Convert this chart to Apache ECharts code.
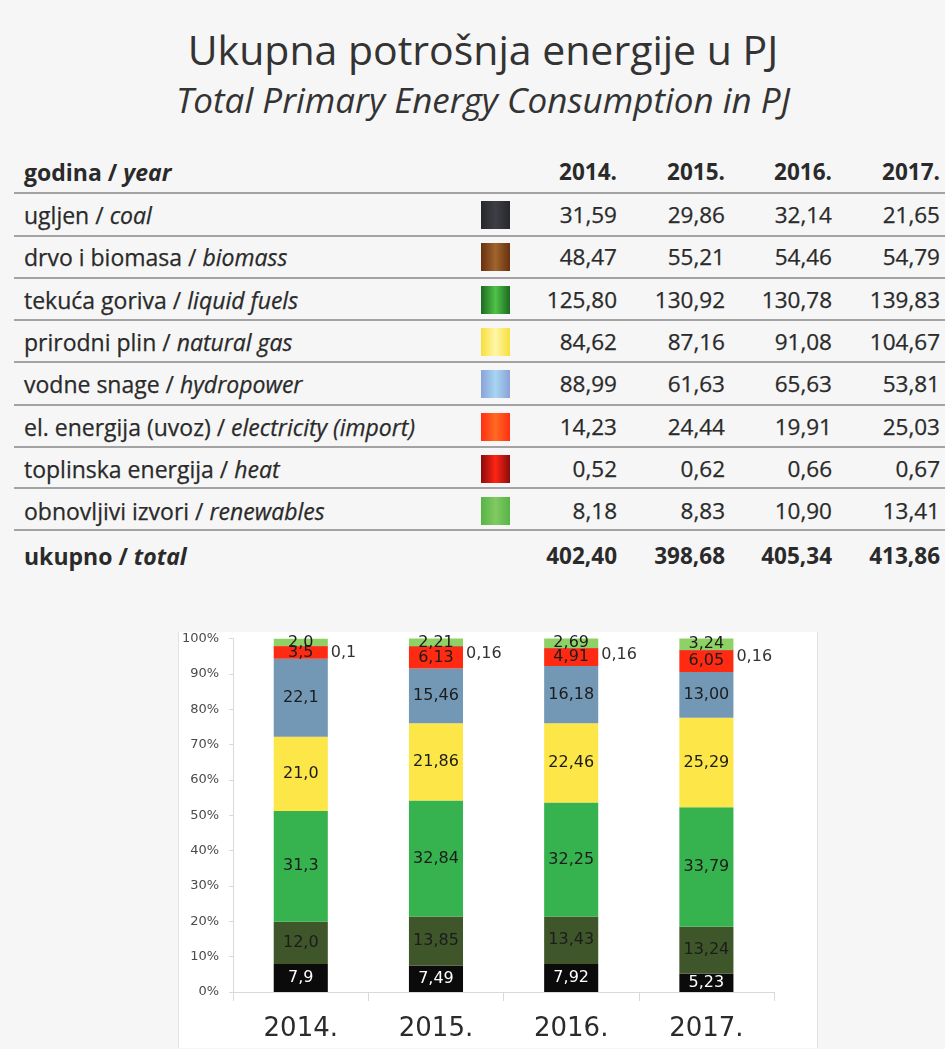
<!DOCTYPE html>
<html>
<head>
<meta charset="utf-8">
<script src="https://cdn.jsdelivr.net/npm/echarts@6/dist/echarts.min.js"></script>
<style>
  body { margin: 0; width: 945px; height: 1049px; overflow: hidden; position: relative; background: #f6f6f6; font-family: 'Open Sans', sans-serif; color: #2a2a2a; }
  .title1 { position: absolute; left: 0; width: 966px; top: 24px; text-align: center; font-size: 41px; line-height: 50px; color: #333; }
  .title2 { position: absolute; left: 0; width: 966px; top: 78px; text-align: center; font-size: 35px; line-height: 44px; font-style: italic; color: #333; }
  .row { position: absolute; left: 0; width: 945px; height: 42px; line-height: 42px; font-size: 23px; -webkit-text-stroke: 0.25px #2a2a2a; }
  .row .name { position: absolute; left: 24px; white-space: nowrap; }
  .row .num { position: absolute; width: 120px; text-align: right; font-size: 22.5px; }
  .row.bold { font-weight: bold; -webkit-text-stroke: 0; }
  .sw { position: absolute; left: 481px; top: 7px; width: 29px; height: 28px; box-sizing: border-box; }
  .line { position: absolute; left: 14px; width: 931px; height: 2px; background: #a3a3a3; }
  #chart { position: absolute; left: 178px; top: 632px; width: 638px; height: 416px; background: #fff; border-left: 1px solid #e2e2e2; border-right: 1px solid #e2e2e2; }
</style>
</head>
<body>
<div class="title1">Ukupna potrošnja energije u PJ</div>
<div class="title2">Total Primary Energy Consumption in PJ</div>
<div id="table"></div>
<div id="chart"></div>
<script>
// table data (PJ)
const years = ['2014.', '2015.', '2016.', '2017.'];
const sourcesHr = ['ugljen', 'drvo i biomasa', 'tekuća goriva', 'prirodni plin', 'vodne snage', 'el. energija (uvoz)', 'toplinska energija', 'obnovljivi izvori'];
const sourcesEn = ['coal', 'biomass', 'liquid fuels', 'natural gas', 'hydropower', 'electricity (import)', 'heat', 'renewables'];
const coal = [31.59, 29.86, 32.14, 21.65];
const biomass = [48.47, 55.21, 54.46, 54.79];
const liquidFuels = [125.80, 130.92, 130.78, 139.83];
const naturalGas = [84.62, 87.16, 91.08, 104.67];
const hydropower = [88.99, 61.63, 65.63, 53.81];
const electricity = [14.23, 24.44, 19.91, 25.03];
const heat = [0.52, 0.62, 0.66, 0.67];
const renewables = [8.18, 8.83, 10.90, 13.41];
const total = [402.40, 398.68, 405.34, 413.86];

// chart data (share in %)
const coalPct = [7.9, 7.49, 7.92, 5.23];
const biomassPct = [12.0, 13.85, 13.43, 13.24];
const liquidPct = [31.3, 32.84, 32.25, 33.79];
const gasPct = [21.0, 21.86, 22.46, 25.29];
const hydroPct = [22.1, 15.46, 16.18, 13.00];
const elecPct = [3.5, 6.13, 4.91, 6.05];
const heatPct = [0.1, 0.16, 0.16, 0.16];
const renewPct = [2.0, 2.21, 2.69, 3.24];
const pctDecimals = [1, 2, 2, 2];
const yTicks = [0, 10, 20, 30, 40, 50, 60, 70, 80, 90, 100];

const swatches = [
  'linear-gradient(to right,#26282c,#3d3f44,#26282c)',
  'linear-gradient(to right,#68310f,#a0642c,#68310f)',
  'linear-gradient(to right,#1e6a22,#4fc247,#1e6a22)',
  'linear-gradient(to right,#f7df3c,#fff6a8,#f7df3c)',
  'linear-gradient(to right,#8aa2d8,#a6d6f2,#8aa2d8)',
  'linear-gradient(to right,#ff2f12,#ff6a22,#ff2f12)',
  'linear-gradient(to right,#8a0c0c,#ff2414,#8a0c0c)',
  'linear-gradient(to right,#55b545,#82c962,#55b545)'
];
const barColors = ['#0b0b0b', '#3e5629', '#36b24f', '#fde648', '#7298b5', '#fe2b12', '#c00000', '#8ed265'];

const fmt = (v, d) => v.toFixed(d).replace('.', ',');
const colRight = [617, 725, 832, 940];

// build the table
const table = document.getElementById('table');
const tableRows = [coal, biomass, liquidFuels, naturalGas, hydropower, electricity, heat, renewables];
function addRow(cy, nameHtml, values, bold, swatch) {
  const r = document.createElement('div');
  r.className = 'row' + (bold ? ' bold' : '');
  r.style.top = (cy - 21) + 'px';
  let html = '<span class="name">' + nameHtml + '</span>';
  if (swatch) html += '<div class="sw" style="background:' + swatch + '"></div>';
  values.forEach((v, i) => {
    html += '<span class="num" style="left:' + (colRight[i] - 120) + 'px">' + v + '</span>';
  });
  r.innerHTML = html;
  table.appendChild(r);
}
function addLine(y) {
  const l = document.createElement('div');
  l.className = 'line';
  l.style.top = (y - 1) + 'px';
  table.appendChild(l);
}
addRow(172, 'godina / <i>year</i>', years, true);
const rowCy = [215, 257, 300, 342, 384, 427, 469, 511];
const lineY = [193, 236, 278, 320, 362, 405, 447, 488, 530];
lineY.forEach(addLine);
tableRows.forEach((vals, k) => {
  addRow(rowCy[k], sourcesHr[k] + ' / <i>' + sourcesEn[k] + '</i>', vals.map(v => fmt(v, 2)), false, swatches[k]);
});
addRow(556, 'ukupno / <i>total</i>', total.map(v => fmt(v, 2)), true);

// chart
const chart = echarts.init(document.getElementById('chart'));
const pctSeries = [coalPct, biomassPct, liquidPct, gasPct, hydroPct, elecPct, heatPct, renewPct];
const labelColors = ['#ffffff', '#1c1c1c', '#1c1c1c', '#1c1c1c', '#1c1c1c', '#1c1c1c', '#333333', '#1c1c1c'];

const series = pctSeries.map((data, k) => {
  const isHeat = k === 6;
  return {
    name: sourcesEn[k],
    type: 'bar',
    stack: 'total',
    data: data,
    barWidth: '40%',
    itemStyle: { color: barColors[k] },
    label: {
      show: true,
      position: isHeat ? 'right' : 'inside',
      distance: 3,
      fontFamily: 'DejaVu Sans',
      fontSize: 16,
      color: labelColors[k],
      formatter: p => fmt(p.value, pctDecimals[p.dataIndex])
    },
    labelLayout: isHeat ? { hideOverlap: false, dy: 7 } : { hideOverlap: false }
  };
});

chart.setOption({
  animation: false,
  grid: { left: 54, right: 43, top: 6, bottom: 56 },
  xAxis: {
    type: 'category',
    data: years,
    axisLine: { lineStyle: { color: '#d9d9d9', width: 1 } },
    axisTick: { show: true, length: 9, lineStyle: { color: '#d9d9d9' } },
    axisLabel: { fontFamily: 'DejaVu Sans', fontSize: 26, color: '#2b2b2b', margin: 24 }
  },
  yAxis: {
    type: 'value',
    min: yTicks[0],
    max: yTicks[yTicks.length - 1],
    interval: 10,
    axisLine: { show: true, lineStyle: { color: '#d9d9d9' } },
    axisTick: { show: true, length: 4, lineStyle: { color: '#d9d9d9' } },
    splitLine: { show: false },
    axisLabel: { fontFamily: 'DejaVu Sans', fontSize: 13, color: '#4a4a4a', margin: 14, formatter: '{value}%' }
  },
  series
});
</script>
</body>
</html>
